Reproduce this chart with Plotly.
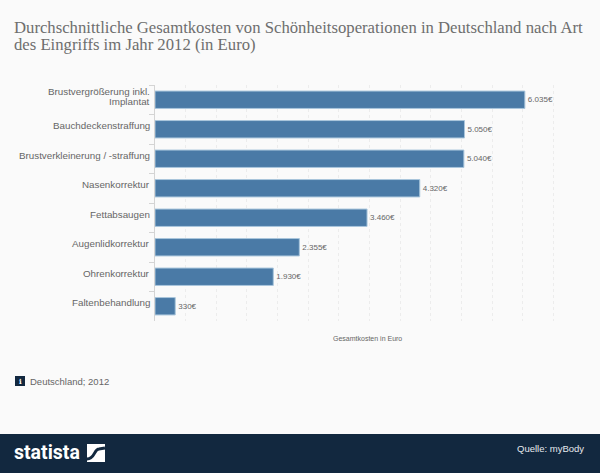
import plotly.graph_objects as go

categories = ["Brustvergrößerung inkl.<br>Implantat", "Bauchdeckenstraffung", "Brustverkleinerung / -straffung",
              "Nasenkorrektur", "Fettabsaugen", "Augenlidkorrektur", "Ohrenkorrektur", "Faltenbehandlung"]
values = [6035, 5050, 5040, 4320, 3460, 2355, 1930, 330]
labels = [f"{v:,}€".replace(",", ".") for v in values]
title_lines = ["Durchschnittliche Gesamtkosten von Schönheitsoperationen in Deutschland nach Art",
               "des Eingriffs im Jahr 2012 (in Euro)"]

W, H = 600, 473
L, R, T, B = 155, 584, 85, 321
NAVY = "#12283f"
GREY = "#666666"
SANS = "Liberation Sans, Arial, sans-serif"
SERIF = "Liberation Serif, Georgia, serif"

def px(x):
    return (x - L) / (R - L)
def py(y):
    return (B - y) / (B - T)

fig = go.Figure(go.Bar(
    x=values, y=categories, orientation="h", width=0.59,
    marker=dict(color="#4a7aa6", line=dict(color="#a9c6dc", width=1)),
    text=labels, textposition="outside", cliponaxis=False,
    textfont=dict(family=SANS, size=8, color=GREY), hoverinfo="skip",
))

def rect(x0, y0, x1, y1, color):
    return dict(type="rect", xref="paper", yref="paper", x0=px(x0), x1=px(x1), y0=py(y0), y1=py(y1),
                fillcolor=color, line=dict(width=0))

logo_curve = (f"M {px(87):.5f} {py(459):.5f} C {px(95):.5f} {py(459):.5f} {px(94):.5f} {py(449):.5f} "
              f"{px(99):.5f} {py(449):.5f} L {px(105):.5f} {py(448):.5f}")

shapes = [
    rect(0, 434, 600, 473, NAVY),
    rect(15, 376, 25, 386, NAVY),
    rect(87, 444, 105, 462, "#ffffff"),
    dict(type="path", xref="paper", yref="paper", path=logo_curve, line=dict(color=NAVY, width=3)),
]

def note(text, x, y, size, color=GREY, family=SANS, xanchor="left", weight=None):
    font = dict(family=family, size=size, color=color)
    if weight:
        font["weight"] = weight
    return dict(text=text, xref="paper", yref="paper", x=px(x), y=py(y), xanchor=xanchor, yanchor="middle",
                showarrow=False, font=font, align=xanchor, borderpad=0, borderwidth=0)

annotations = [
    note(title_lines[0], 14, 28, 16.7, "#6e6e6e", SERIF),
    note(title_lines[1], 14, 44, 16.7, "#6e6e6e", SERIF),
    note("Gesamtkosten in Euro", 333, 338, 7, GREY),
    note("Deutschland; 2012", 30, 381, 9.5, GREY),
    note("statista", 14, 453, 19.5, "#ffffff", "Roboto, " + SANS, weight=700),
    note("Quelle: myBody", 584, 448, 9.5, "#e6e9ee", SANS, xanchor="right"),
    note("i", 20, 381, 7, "#ffffff", "DejaVu Serif", xanchor="center", weight=700),
]

# category labels sit a few pixels above the bar centres in the reference
LABEL_LIFT = 3.5
LINE_GAP = 10
for cat in categories:
    lines = cat.split("<br>")
    for i, line in enumerate(lines):
        shift = LABEL_LIFT + ((len(lines) - 1) / 2 - i) * LINE_GAP
        annotations.append(dict(
            text=line, xref="paper", yref="y", x=px(149.5), y=cat, xanchor="right", yanchor="middle",
            yshift=shift, showarrow=False, borderpad=0, borderwidth=0,
            font=dict(family=SANS, size=9.8, color=GREY),
        ))

fig.update_layout(
    width=W, height=H, autosize=False, showlegend=False,
    margin=dict(l=L, r=W - R, t=T, b=H - B),
    paper_bgcolor="#fafafa", plot_bgcolor="#fafafa",
    shapes=shapes, annotations=annotations,
    bargap=0.41,
)
fig.update_xaxes(range=[0, 7000], tick0=0, dtick=500, showticklabels=False, ticks="",
                 showgrid=True, gridcolor="#ececec", griddash="dot", gridwidth=1, zeroline=False, showline=False)
fig.update_yaxes(type="category", autorange="reversed", tickson="boundaries", ticks="outside", ticklen=5,
                 tickcolor="#d4d4d4", showline=True, linecolor="#d4d4d4", linewidth=1, showgrid=False,
                 showticklabels=False)
fig.write_html("out.html", config=dict(displayModeBar=False),
               post_script="document.body.style.margin='0';document.body.style.background='#fafafa';")
